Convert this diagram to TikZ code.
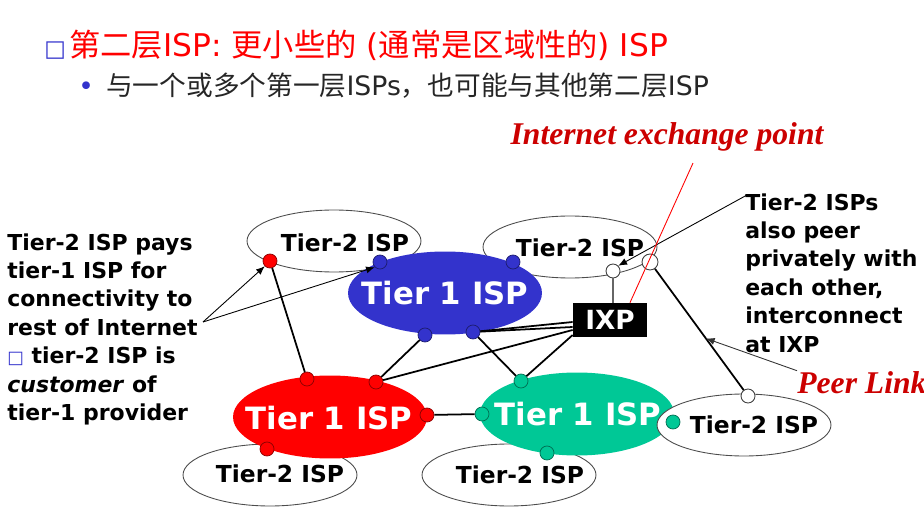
\documentclass[tikz,border=0pt]{standalone}
\usepackage{fontspec}
\setmainfont{DejaVu Sans}
\newfontfamily\cjk{Noto Sans CJK SC}
\newfontfamily\tnr{Liberation Serif}
\usetikzlibrary{arrows.meta,positioning,shapes.geometric,calc}
\definecolor{tierblue}{HTML}{3333CC}
\definecolor{tierred}{HTML}{FF0000}
\definecolor{tiergreen}{HTML}{00C896}
\definecolor{notered}{HTML}{CC0000}

\begin{document}
\begin{tikzpicture}[
  x=0.02cm, y=-0.02cm,
  tierone/.style={ellipse, inner sep=0pt, minimum width=3.88cm, minimum height=1.66cm},
  t1lab/.style={inner sep=0pt, text=white, font=\fontsize{17.5}{20}\selectfont\bfseries},
  tiertwo/.style={ellipse, draw=black!70, line width=0.5pt, fill=white,
                  minimum width=3.48cm, minimum height=1.24cm},
  t2lab/.style={inner sep=0pt, font=\fontsize{13.3}{15}\selectfont\bfseries},
  dot/.style={circle, draw=#1!55!black, fill=#1, inner sep=0pt, minimum size=0.28cm, line width=0.4pt},
  hole/.style={circle, draw=black!75, fill=white, inner sep=0pt, minimum size=0.28cm, line width=0.5pt},
  link/.style={line width=1pt},
  callout/.style={-{Latex[length=5pt,width=4pt]}, line width=0.5pt},
  note/.style={align=left, inner sep=0pt, font=\fontsize{12.5}{16.2}\selectfont\bfseries},
  fancy/.style={text=notered, inner sep=0pt, font=\tnr\fontsize{18}{20}\selectfont\bfseries\itshape}
]
\useasboundingbox (0,0) rectangle (924,527);

% heading
\node[anchor=west, inner sep=0pt] (title) at (44,45)
  {{\fontsize{13}{13}\selectfont\color{tierblue}□}\hspace{2pt}{\fontsize{17.8}{20}\selectfont\color{tierred}{\cjk 第二层}ISP: {\cjk 更小些的} ({\cjk 通常是区域性的}) ISP}};
\node[anchor=west, inner sep=0pt] (subline) at (78,86)
  {{\fontsize{15}{15}\selectfont\color{tierblue}•}\hspace{7pt}{\fontsize{15.2}{18}\selectfont\color{black!85}{\cjk 与一个或多个第一层}ISPs{\cjk ，也可能与其他第二层}ISP}};

% tier-2 ISPs under the tier-1 ones
\node[tiertwo] (t2nw) at (334,241) {};
\node[t2lab] (t2nwtxt) at (345,243) {Tier-2 ISP};
\node[tiertwo] (t2ne) at (570,247) {};
\node[t2lab] (t2netxt) at (580,248) {Tier-2 ISP};
\node[tiertwo] (t2sw) at (270,475) {};
\node[t2lab] (t2swtxt) at (280,474) {Tier-2 ISP};
\node[tiertwo] (t2sm) at (509,475) {};
\node[t2lab] (t2smtxt) at (520,475) {Tier-2 ISP};

% tier-1 ISPs
\node[tierone, fill=tierblue] (t1blue) at (445,293) {};
\node[t1lab] (t1bluetxt) at (445,293) {Tier 1 ISP};
\node[tierone, fill=tierred] (t1red) at (330,417) {};
\node[t1lab] (t1redtxt) at (329,418) {Tier 1 ISP};
\node[tierone, fill=tiergreen] (t1green) at (577,414) {};
\node[t1lab] (t1greentxt) at (578,414) {Tier 1 ISP};

\node[tiertwo] (t2se) at (744,425) {};
\node[t2lab] (t2setxt) at (754,425) {Tier-2 ISP};

\node[fill=black, text=white, inner sep=0pt, minimum width=1.48cm, minimum height=0.68cm,
      font=\fontsize{15}{15}\selectfont\bfseries] (ixp) at (610,320) {IXP};

% routers
\node[dot=tierred] (rdnw) at (270,261) {};
\node[dot=tierblue] (bd1) at (380,262) {};
\node[dot=tierblue] (bd2) at (513,262) {};
\node[hole] (hw1) at (613,271) {};
\node[hole, minimum size=0.32cm] (hw2) at (650,262) {};
\node[dot=tierblue] (bd3) at (425,335) {};
\node[dot=tierblue] (bd4) at (473,332) {};
\node[dot=tierred] (rd1) at (307,379) {};
\node[dot=tierred] (rd2) at (376,382) {};
\node[dot=tierred] (rd3) at (427,415) {};
\node[dot=tierred] (rd4) at (267,449) {};
\node[dot=tiergreen] (gd1) at (521,381) {};
\node[dot=tiergreen] (gd2) at (482,414) {};
\node[dot=tiergreen] (gd3) at (547,453) {};
\node[dot=tiergreen] (gd4) at (673,422) {};
\node[hole] (hw3) at (748,396) {};

% links
\draw[link] (rdnw) -- (rd1);
\draw[link] (bd3) -- (rd2);
\draw[link] (rd2) -- ($(ixp.west)+(0,10)$);
\draw[link] (bd4) -- ($(ixp.west)+(0,2)$);
\draw[link] (bd4) -- ($(ixp.west)+(0,7)$);
\draw[link] (bd4) -- (gd1);
\draw[link] (gd1) -- ($(ixp.west)+(0,15)$);
\draw[link] (rd3) -- (gd2);
\draw[black!60, line width=0.6pt] (hw1) -- (hw1 |- ixp.north);
\draw[link] (hw2) -- (hw3);

% annotations
\node[note, anchor=north west] (paytxt) at (7,233)
  {Tier-2 ISP pays\\tier-1 ISP for\\connectivity to\\rest of Internet\\{\fontsize{10}{10}\selectfont\color{tierblue}□} tier-2 ISP is\\\textit{customer} of\\tier-1 provider};
\coordinate (paysrc) at (203,322);
\draw[callout] (paysrc) -- (rdnw.south west);
\draw[callout] (paysrc) -- (bd1.south west);

\node[note, anchor=north west] (peertxt) at (745,193)
  {Tier-2 ISPs\\also peer\\privately with\\each other,\\interconnect\\at IXP};
\draw[callout] ($(peertxt.north west)+(2,2)$) -- (hw1.north east);

\node[fancy, anchor=base] (ieptxt) at (667,145) {Internet exchange point};
\draw[red, line width=0.5pt] ($(ieptxt.south)+(26,11)$) -- ($(ixp.north)+(20,0)$);

\node[fancy, anchor=base west] (peerlink) at (797,393) {Peer Link};
\coordinate (peerpt) at ($(hw2)!0.57!(hw3)$);
\draw[callout, black!80] (peerlink.north west) -- (peerpt);
\end{tikzpicture}
\end{document}
